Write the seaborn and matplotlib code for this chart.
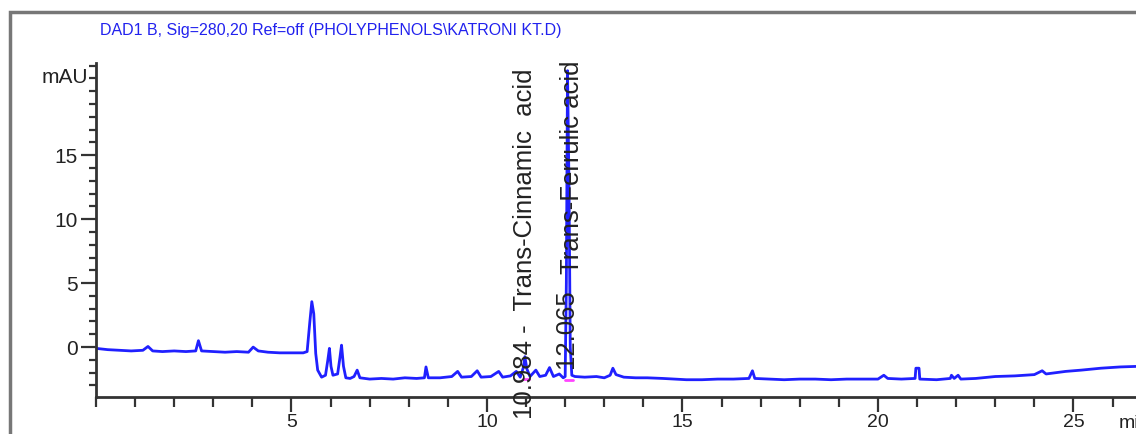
import matplotlib
matplotlib.use("Agg")
import matplotlib.pyplot as plt
import seaborn as sns
import pandas as pd
from matplotlib.patches import Rectangle
from matplotlib.ticker import MultipleLocator

# ---- data ----
time_min = [0.0, 0.3, 0.6, 0.9, 1.2, 1.33, 1.45, 1.7, 2.0, 2.3, 2.55, 2.62, 2.7, 3.0, 3.3, 3.6, 3.9, 4.02,
            4.15, 4.4, 4.7, 5.0, 5.3, 5.4, 5.47, 5.52, 5.57, 5.62, 5.67, 5.77, 5.87, 5.93, 5.97, 6.01, 6.06,
            6.18, 6.24, 6.28, 6.33, 6.39, 6.5, 6.6, 6.68, 6.75, 7.0, 7.3, 7.6, 7.9, 8.2, 8.4, 8.44, 8.5,
            8.8, 9.1, 9.25, 9.35, 9.6, 9.75, 9.85, 10.1, 10.3, 10.4, 10.6, 10.75, 10.85, 10.93, 10.97,
            11.02, 11.1, 11.25, 11.35, 11.5, 11.6, 11.7, 11.85, 11.95, 12.0, 12.03, 12.06, 12.1, 12.13,
            12.17, 12.25, 12.5, 12.8, 13.0, 13.15, 13.22, 13.3, 13.5, 13.8, 14.1, 14.5, 14.8, 15.1, 15.5,
            15.9, 16.3, 16.7, 16.79, 16.85, 17.2, 17.6, 18.0, 18.4, 18.8, 19.2, 19.6, 20.0, 20.15, 20.25,
            20.6, 20.95, 20.97, 21.05, 21.07, 21.5, 21.85, 21.88, 21.95, 22.05, 22.12, 22.5, 23.0, 23.5,
            24.0, 24.2, 24.3, 24.8, 25.2, 25.7, 26.2, 26.7]
signal_mau = [-0.1, -0.2, -0.25, -0.3, -0.25, 0.05, -0.3, -0.35, -0.3, -0.35, -0.3, 0.5, -0.3, -0.35, -0.4,
              -0.35, -0.4, 0.0, -0.3, -0.4, -0.45, -0.45, -0.45, -0.35, 2.0, 3.55, 2.6, -0.5, -1.8, -2.35,
              -2.2, -1.0, -0.1, -1.5, -2.2, -2.1, -0.8, 0.15, -1.5, -2.4, -2.45, -2.3, -1.8, -2.4, -2.5,
              -2.45, -2.5, -2.4, -2.45, -2.4, -1.55, -2.4, -2.4, -2.3, -1.9, -2.35, -2.3, -1.85, -2.35,
              -2.3, -1.9, -2.35, -2.25, -1.9, -2.35, -1.6, -0.75, -1.7, -2.3, -1.8, -2.3, -2.2, -1.6,
              -2.3, -2.1, -2.4, -2.3, 5.0, 21.6, 12.0, 0.0, -2.2, -2.3, -2.35, -2.3, -2.4, -2.2, -1.65,
              -2.15, -2.35, -2.4, -2.4, -2.45, -2.5, -2.55, -2.55, -2.5, -2.5, -2.45, -1.85, -2.45, -2.5,
              -2.55, -2.5, -2.5, -2.55, -2.5, -2.5, -2.5, -2.2, -2.45, -2.5, -2.45, -1.65, -1.65, -2.5,
              -2.55, -2.45, -2.2, -2.45, -2.2, -2.5, -2.45, -2.3, -2.25, -2.15, -1.85, -2.1, -1.9, -1.8,
              -1.65, -1.55, -1.5]

baseline_start = [10.92, 12.0]
baseline_end = [11.08, 12.2]
baseline_level = [-2.5, -2.6]

title_text = "DAD1 B, Sig=280,20 Ref=off (PHOLYPHENOLS\\KATRONI KT.D)"
x_ticks = [5, 10, 15, 20, 25]
y_ticks = [0, 5, 10, 15]

sns.set_theme(style="white")
narrow = ["Liberation Sans Narrow", "Liberation Sans", "DejaVu Sans"]
plt.rcParams["font.family"] = narrow

fig = plt.figure(figsize=(11.36, 4.34), dpi=100)
ax = fig.add_axes([96 / 1136, 37 / 434, 1040 / 1136, 334 / 434])

df = pd.DataFrame({"t": time_min, "v": signal_mau})
sns.lineplot(data=df, x="t", y="v", ax=ax, color="#2020ff", lw=2.0, estimator=None, sort=False)

for s, e, lv in zip(baseline_start, baseline_end, baseline_level):
    ax.plot([s, e], [lv, lv], color="#ff44ff", lw=2.0)

ax.set_xlim(0, 26.6)
ax.set_ylim(-3.9, 22.2)
ax.set_xlabel("")
ax.set_ylabel("")
ax.set_xticks(x_ticks)
ax.set_yticks(y_ticks)
ax.xaxis.set_minor_locator(MultipleLocator(1))
ax.yaxis.set_minor_locator(MultipleLocator(1))
for side in ["top", "right"]:
    ax.spines[side].set_visible(False)
for side in ["left", "bottom"]:
    ax.spines[side].set_color("#333333")
    ax.spines[side].set_linewidth(2)
ax.tick_params(axis="x", which="major", direction="out", length=11, width=1.6, color="#333333",
               labelsize=14, pad=1, bottom=True)
ax.tick_params(axis="x", which="minor", direction="out", length=7, width=1.6, color="#333333", bottom=True)
ax.tick_params(axis="y", which="major", direction="out", length=11, width=1.6, color="#333333",
               labelsize=15, pad=2, left=True)
ax.tick_params(axis="y", which="minor", direction="out", length=5, width=1.6, color="#333333", left=True)
for lab in ax.get_xticklabels() + ax.get_yticklabels():
    lab.set_color("#222222")

ax.text(-0.008, 21.1, "mAU", transform=ax.get_yaxis_transform(), ha="right", va="center",
        fontsize=15, color="#222222")
ax.text(26.15, -6.0, "min", ha="left", va="center", fontsize=14, color="#222222", clip_on=False)

lab_font = ["Liberation Sans", "DejaVu Sans"]
ax.text(10.97, 21.8, "10.984 -  Trans-Cinnamic  acid", rotation=90, ha="center", va="top",
        fontsize=18.5, color="#222222", family=lab_font, clip_on=False)
ax.text(12.02, -1.6, "12.065", rotation=90, ha="center", va="bottom",
        fontsize=18.5, color="#222222", family=lab_font, clip_on=False)
ax.text(12.18, 22.4, "Trans-Ferrulic acid", rotation=90, ha="center", va="top",
        fontsize=18.5, color="#222222", family=lab_font, clip_on=False)

fig.text(100 / 1136, 1 - 31 / 434, title_text, ha="left", va="center", fontsize=11.5,
         color="#2222ee", family=narrow)

fig.patches.append(Rectangle((10 / 1136, -0.2), 1.2, 1.2 - 12 / 434, transform=fig.transFigure,
                             fill=False, edgecolor="#777777", lw=2.5))

fig.savefig("out.png", dpi=100)
